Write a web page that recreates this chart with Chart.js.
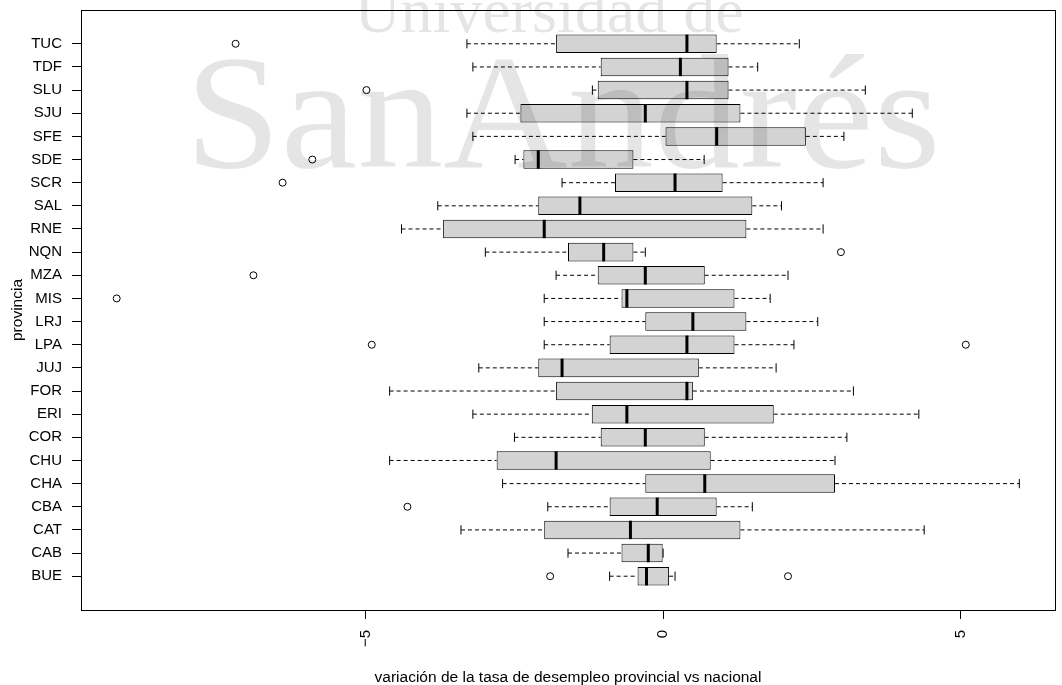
<!DOCTYPE html>
<html>
<head>
<meta charset="utf-8">
<script src="https://cdn.jsdelivr.net/npm/chart.js@4/dist/chart.umd.min.js"></script>
<style>
  html, body { margin: 0; padding: 0; background: #fff; }
  #wrap { width: 1062px; height: 685px; }
</style>
</head>
<body>
<div id="wrap"><canvas id="boxChart" width="1062" height="685"></canvas></div>
<script>
// provincias, de abajo hacia arriba
const provincias = ['BUE','CAB','CAT','CBA','CHA','CHU','COR','ERI','FOR','JUJ','LPA','LRJ',
                    'MIS','MZA','NQN','RNE','SAL','SCR','SDE','SFE','SJU','SLU','TDF','TUC'];

// estadisticos del boxplot (bigote inf, q1, mediana, q3, bigote sup)
const bigoteInf = [-0.90,-1.60,-3.40,-1.94,-2.70,-4.60,-2.50,-3.20,-4.60,-3.10,-2.00,-2.00,
                   -2.00,-1.80,-2.99,-4.40,-3.79,-1.70,-2.49,-3.20,-3.30,-1.19,-3.20,-3.30];
const q1        = [-0.43,-0.70,-2.00,-0.90,-0.30,-2.80,-1.05,-1.20,-1.80,-2.10,-0.90,-0.30,
                   -0.70,-1.10,-1.60,-3.70,-2.10,-0.81,-2.35, 0.04,-2.40,-1.10,-1.05,-1.80];
const mediana   = [-0.28,-0.25,-0.55,-0.10, 0.70,-1.80,-0.30,-0.61, 0.40,-1.70, 0.40, 0.50,
                   -0.61,-0.30,-1.00,-2.00,-1.40, 0.20,-2.10, 0.90,-0.30, 0.40, 0.29, 0.40];
const q3        = [ 0.10, 0.00, 1.30, 0.90, 2.89, 0.80, 0.70, 1.86, 0.50, 0.60, 1.20, 1.40,
                    1.20, 0.70,-0.50, 1.40, 1.50, 1.00,-0.50, 2.40, 1.30, 1.10, 1.10, 0.90];
const bigoteSup = [ 0.20, 0.00, 4.39, 1.50, 5.99, 2.89, 3.09, 4.30, 3.20, 1.90, 2.20, 2.60,
                    1.80, 2.10,-0.30, 2.69, 1.99, 2.69, 0.69, 3.04, 4.19, 3.40, 1.59, 2.29];

// valores atipicos
const atipicosProv  = ['BUE','BUE','CBA','LPA','LPA','MIS','MZA','NQN','SCR','SDE','SLU','TUC'];
const atipicosValor = [-1.90, 2.10,-4.30,-4.90, 5.09,-9.19,-6.89, 2.99,-6.40,-5.90,-4.99,-7.19];

const xTicks = [-5, 0, 5];

const pos = i => i + 1;

// whiskers as one dashed line with gaps
const whiskerPts = [];
provincias.forEach((p, i) => {
    whiskerPts.push({x: bigoteInf[i], y: pos(i)}, {x: q1[i], y: pos(i)}, {x: null, y: null});
    whiskerPts.push({x: q3[i], y: pos(i)}, {x: bigoteSup[i], y: pos(i)}, {x: null, y: null});
});
const capPts = [];
provincias.forEach((p, i) => {
    capPts.push({x: bigoteInf[i], y: pos(i)}, {x: bigoteSup[i], y: pos(i)});
});

const framePlugin = {
    id: 'frame',
    afterDatasetsDraw(chart) {
        const {ctx, chartArea: a} = chart;
        ctx.save();
        ctx.strokeStyle = '#000';
        ctx.lineWidth = 1;
        ctx.strokeRect(Math.round(a.left) + 0.5, Math.round(a.top) + 0.5,
                       Math.round(a.right - a.left), Math.round(a.bottom - a.top));
        ctx.restore();
    }
};

const watermark = {
    id: 'watermark',
    afterDraw(chart) {
        const ctx = chart.ctx;
        ctx.save();
        ctx.fillStyle = 'rgba(0,0,0,0.1)';
        ctx.textBaseline = 'alphabetic';
        ctx.textAlign = 'center';
        ctx.font = "64px 'Liberation Serif', 'DejaVu Serif', serif";
        ctx.fillText('Universidad de', 549, 32);
        ctx.textAlign = 'left';
        ctx.font = "164px 'Liberation Serif', 'DejaVu Serif', serif";
        ctx.translate(185, 167);
        ctx.scale(1.05, 1);
        ctx.fillText('SanAndrés', 0, 0);
        ctx.restore();
    }
};

Chart.defaults.font.family = "'Liberation Sans', Arial, sans-serif";
Chart.defaults.font.size = 15;
Chart.defaults.color = '#000';

const noPadX = s => { s.height = 75; s.paddingLeft = 0; s.paddingRight = 0; };
const noPadY = s => { s.width = 81; s.paddingTop = 0; s.paddingBottom = 0; };

new Chart(document.getElementById('boxChart'), {
    type: 'bar',
    data: {
        datasets: [
            {
                type: 'scatter',
                data: atipicosProv.map((p, i) => ({x: atipicosValor[i], y: provincias.indexOf(p) + 1})),
                pointStyle: 'circle',
                pointRadius: 3.5,
                pointBorderWidth: 1,
                pointBorderColor: '#000',
                pointBackgroundColor: 'rgba(0,0,0,0)'
            },
            {
                type: 'scatter',
                data: mediana.map((m, i) => ({x: m, y: pos(i)})),
                pointStyle: 'line',
                rotation: 90,
                pointRadius: 9.2,
                pointBorderWidth: 3,
                pointBorderColor: '#000'
            },
            {
                type: 'scatter',
                data: capPts,
                pointStyle: 'line',
                rotation: 90,
                pointRadius: 4.6,
                pointBorderWidth: 1,
                pointBorderColor: '#000'
            },
            {
                type: 'bar',
                indexAxis: 'y',
                data: provincias.map((p, i) => ({x: [q1[i], q3[i]], y: pos(i)})),
                backgroundColor: '#d3d3d3',
                borderColor: '#000',
                borderWidth: 1,
                borderSkipped: false,
                categoryPercentage: 1,
                barPercentage: 0.8
            },
            {
                type: 'scatter',
                data: whiskerPts,
                showLine: true,
                spanGaps: false,
                borderColor: '#000',
                borderWidth: 1,
                borderDash: [4, 3],
                pointRadius: 0
            }
        ]
    },
    options: {
        responsive: false,
        animation: false,
        events: [],
        layout: { autoPadding: false, padding: { top: 10, right: 7, left: 0, bottom: 0 } },
        plugins: { legend: { display: false }, tooltip: { enabled: false } },
        scales: {
            x: {
                type: 'linear',
                offset: false,
                min: -9.79,
                max: 6.59,
                afterBuildTicks: s => { s.ticks = xTicks.map(v => ({value: v})); },
                afterFit: noPadX,
                grid: { offset: false, drawOnChartArea: false, drawTicks: true, tickLength: 9, color: '#000' },
                border: { display: false },
                ticks: {
                    minRotation: 90, maxRotation: 90, padding: 11, autoSkip: false,
                    callback: v => (v < 0 ? '\u2212' + Math.abs(v) : String(v))
                },
                title: {
                    display: true,
                    text: 'variación de la tasa de desempleo provincial vs nacional',
                    font: { size: 15.5 },
                    padding: { top: 0, bottom: -2 }
                }
            },
            y: {
                type: 'linear',
                offset: false,
                min: -0.46,
                max: 25.46,
                afterBuildTicks: s => { s.ticks = provincias.map((p, i) => ({value: pos(i)})); },
                afterFit: noPadY,
                grid: { offset: false, drawOnChartArea: false, drawTicks: true, tickLength: 9, color: '#000' },
                border: { display: false },
                ticks: {
                    padding: 10, autoSkip: false,
                    callback: v => provincias[v - 1]
                },
                title: {
                    display: true,
                    text: 'provincia',
                    font: { size: 15.5 },
                    padding: { top: 8, bottom: 0 }
                }
            }
        }
    },
    plugins: [framePlugin, watermark]
});
</script>
</body>
</html>
